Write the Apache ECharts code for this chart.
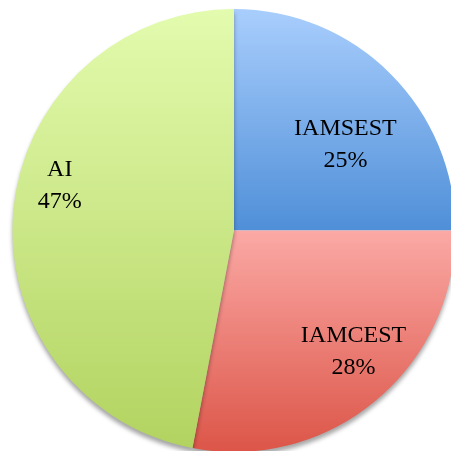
<!DOCTYPE html>
<html><head><meta charset="utf-8">
<script src="https://cdn.jsdelivr.net/npm/echarts@6/dist/echarts.min.js"></script>
<style>html,body{margin:0;padding:0;background:#fff}#c{width:451px;height:451px}</style>
</head><body><div id="c"></div>
<script>
var categories = ['IAMSEST', 'IAMCEST', 'AI'];
var values = [25, 28, 47];
var topColors = ['#a9cefd', '#fba9a5', '#e3fbae'];
var bottomColors = ['#4f8fd8', '#dc5548', '#b2d360'];
var labelShift = [[31, -5], [47, 34], [-61, -34]];
var hasShadow = [false, true, true];

var chart = echarts.init(document.getElementById('c'));
chart.setOption({
  animation: false,
  series: [{
    type: 'pie',
    center: [234, 230.5],
    radius: 221.5,
    startAngle: 90,
    clockwise: true,
    data: categories.map(function (n, i) {
      return {
        name: n, value: values[i],
        itemStyle: {
          color: new echarts.graphic.LinearGradient(0, 0, 0, 1, [
            {offset: 0, color: topColors[i]},
            {offset: 1, color: bottomColors[i]}
          ]),
          shadowColor: hasShadow[i] ? 'rgba(0,0,0,0.35)' : 'rgba(0,0,0,0)',
          shadowBlur: hasShadow[i] ? 4 : 0,
          shadowOffsetY: hasShadow[i] ? 4 : 0
        }
      };
    }),
    itemStyle: {borderWidth: 0},
    label: {
      show: true, position: 'inside',
      formatter: '{b}\n{c}%',
      fontFamily: 'Liberation Serif', fontSize: 24, lineHeight: 32,
      color: '#000', align: 'center'
    },
    labelLine: {show: false},
    labelLayout: function (p) {
      var s = labelShift[p.dataIndex];
      return {dx: s[0], dy: s[1]};
    },
    emphasis: {disabled: true}
  }]
});
</script></body></html>
